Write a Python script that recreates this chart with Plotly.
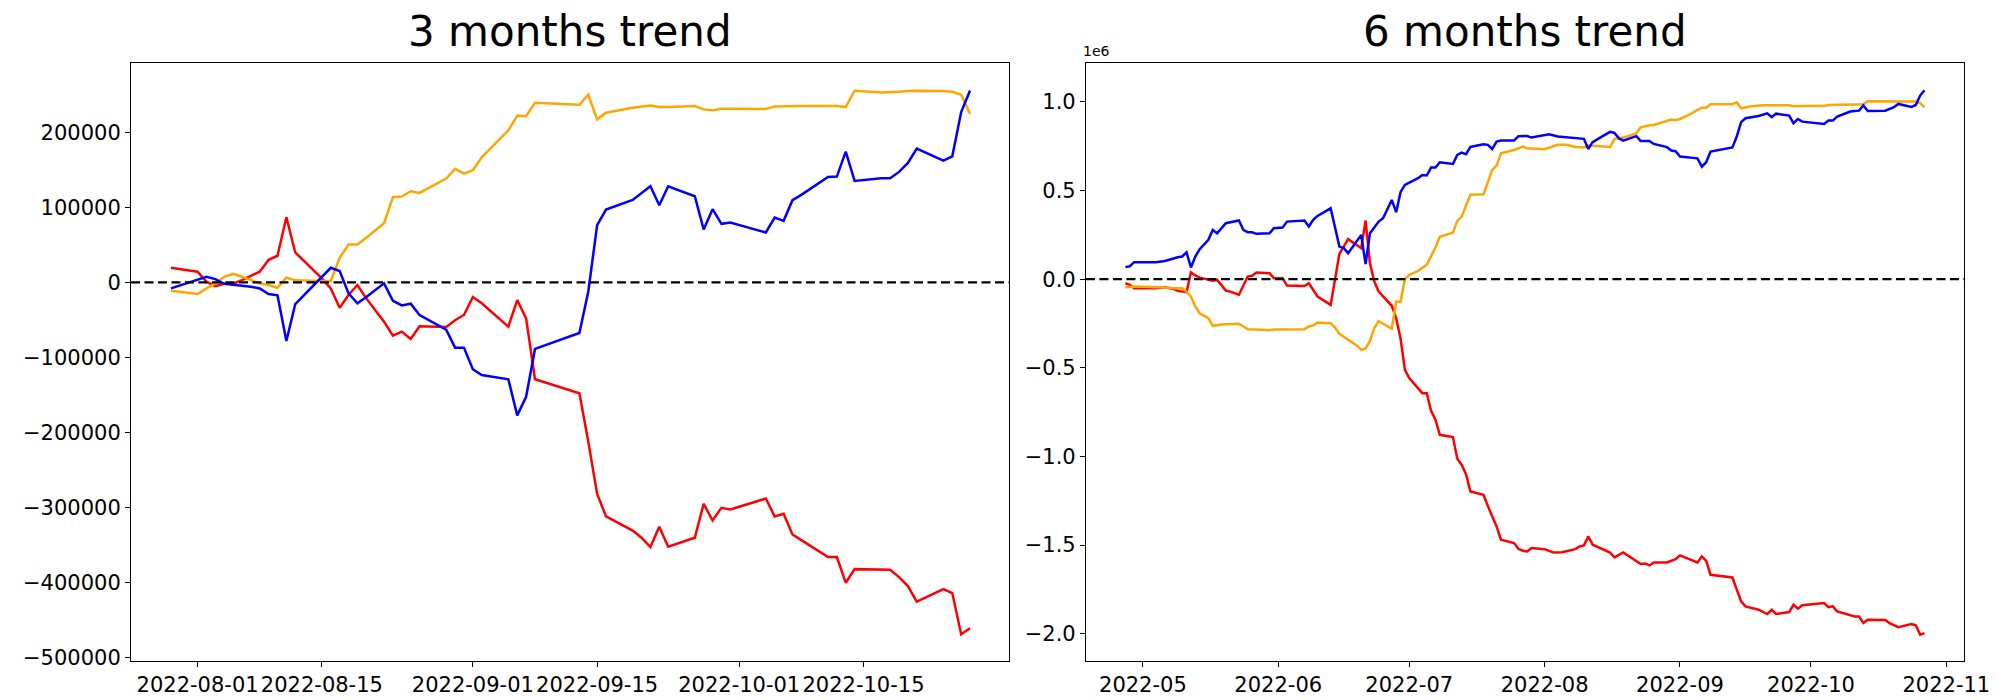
import plotly.graph_objects as go

# ---------------- 3 months trend (left) ----------------
dates_3m = ["2022-07-29", "2022-08-01", "2022-08-02", "2022-08-03", "2022-08-04", "2022-08-05",
            "2022-08-06", "2022-08-07", "2022-08-08", "2022-08-09", "2022-08-10", "2022-08-11",
            "2022-08-12", "2022-08-15", "2022-08-16", "2022-08-17", "2022-08-18", "2022-08-19",
            "2022-08-20", "2022-08-22", "2022-08-23", "2022-08-24", "2022-08-25", "2022-08-26",
            "2022-08-29", "2022-08-30", "2022-08-31", "2022-09-01", "2022-09-02", "2022-09-05",
            "2022-09-06", "2022-09-07", "2022-09-08", "2022-09-13", "2022-09-14", "2022-09-15",
            "2022-09-16", "2022-09-19", "2022-09-20", "2022-09-21", "2022-09-22", "2022-09-23",
            "2022-09-26", "2022-09-27", "2022-09-28", "2022-09-29", "2022-09-30", "2022-10-04",
            "2022-10-05", "2022-10-06", "2022-10-07", "2022-10-08", "2022-10-11", "2022-10-12",
            "2022-10-13", "2022-10-14", "2022-10-17", "2022-10-18", "2022-10-19", "2022-10-20",
            "2022-10-21", "2022-10-24", "2022-10-25", "2022-10-26", "2022-10-27"]

red_3m = [19500, 14200, 900, -4900, -1800, -1800, 3100, 8400, 14200, 30100, 35500, 86900,
          39900, 5300, -8000, -33700, -16800, -3500, -21300, -52300, -70900, -65600, -75400,
          -58500, -59400, -50500, -43400, -19500, -27900, -59000, -23500, -47900, -129000,
          -147600, -211900, -281900, -311600, -330700, -340200, -352600, -325600, -352200,
          -340200, -295000, -317200, -300400, -302600, -288000, -311900, -308300, -335800,
          -343300, -366000, -366000, -400100, -382000, -383300, -382800, -392600, -404500,
          -425400, -408500, -413900, -468800, -460800]

blue_3m = [-8000, 3500, 7500, 4400, -1800, -3100, -4400, -5800, -8000, -15500, -17300, -78000,
           -28800, 8000, 19500, 15100, -14600, -27900, -19500, -1300, -24400, -30600, -28400,
           -43400, -63000, -86900, -86900, -115700, -123300, -129000, -177200, -152400, -88600,
           -67400, -12400, 76200, 97100, 109900, 118400, 128100, 102800, 128100, 114800, 70500,
           97500, 78000, 79800, 66500, 86400, 82000, 109500, 116600, 140500, 141000, 174200,
           135200, 138800, 138800, 147200, 159100, 178200, 162200, 168000, 227000, 255800]

orange_3m = [-11100, -15500, -8000, -1300, 7500, 11500, 7500, 3100, -1300, -3500, -7100, 6200,
             2700, 1800, 1800, 32800, 50500, 50500, 59400, 78900, 113500, 114400, 121500, 119200,
             138300, 151200, 145000, 149400, 166700, 202600, 222100, 221700, 239400, 236700,
             250000, 217200, 226100, 232700, 234100, 235800, 233600, 233600, 235000, 230500,
             229200, 231400, 231400, 231000, 234500, 235000, 235000, 235000, 235000, 235000,
             233600, 255300, 253100, 253100, 254000, 254900, 255300, 254900, 254000, 250000,
             224800]

ticks_3m = ["2022-08-01", "2022-08-15", "2022-09-01", "2022-09-15", "2022-10-01", "2022-10-15"]
yticks_3m = [-500000, -400000, -300000, -200000, -100000, 0, 100000, 200000]

# ---------------- 6 months trend (right), values in millions ----------------
blue_6m_dates = ["2022-04-27", "2022-04-28", "2022-04-29", "2022-05-01", "2022-05-04", "2022-05-06",
                 "2022-05-07", "2022-05-09", "2022-05-10", "2022-05-11", "2022-05-12", "2022-05-13",
                 "2022-05-14", "2022-05-16", "2022-05-17", "2022-05-18", "2022-05-20", "2022-05-23",
                 "2022-05-24", "2022-05-25", "2022-05-26", "2022-05-27", "2022-05-30", "2022-05-31",
                 "2022-06-02", "2022-06-03", "2022-06-07", "2022-06-08", "2022-06-09", "2022-06-10",
                 "2022-06-13", "2022-06-15", "2022-06-16", "2022-06-17", "2022-06-20", "2022-06-21",
                 "2022-06-22", "2022-06-24", "2022-06-25", "2022-06-27", "2022-06-28", "2022-06-29",
                 "2022-06-30", "2022-07-03", "2022-07-04", "2022-07-05", "2022-07-06", "2022-07-07",
                 "2022-07-08", "2022-07-11", "2022-07-12", "2022-07-13", "2022-07-14", "2022-07-15",
                 "2022-07-18", "2022-07-19", "2022-07-20", "2022-07-21", "2022-07-22", "2022-07-25",
                 "2022-07-26", "2022-07-28", "2022-07-29", "2022-08-02", "2022-08-04", "2022-08-08",
                 "2022-08-10", "2022-08-11", "2022-08-12", "2022-08-14", "2022-08-16", "2022-08-17",
                 "2022-08-18", "2022-08-19", "2022-08-22", "2022-08-23", "2022-08-25", "2022-08-26",
                 "2022-08-29", "2022-08-30", "2022-08-31", "2022-09-01", "2022-09-05", "2022-09-06",
                 "2022-09-07", "2022-09-08", "2022-09-13", "2022-09-14", "2022-09-15", "2022-09-16",
                 "2022-09-19", "2022-09-21", "2022-09-22", "2022-09-23", "2022-09-26", "2022-09-27",
                 "2022-09-28", "2022-09-29", "2022-10-04", "2022-10-05", "2022-10-06", "2022-10-07",
                 "2022-10-10", "2022-10-11", "2022-10-12", "2022-10-13", "2022-10-14", "2022-10-18",
                 "2022-10-20", "2022-10-21", "2022-10-24", "2022-10-25", "2022-10-26", "2022-10-27"]
blue_6m = [0.068, 0.073, 0.096, 0.096, 0.096, 0.103, 0.111, 0.124, 0.128, 0.152, 0.066, 0.128,
           0.169, 0.222, 0.278, 0.259, 0.316, 0.331, 0.278, 0.265, 0.265, 0.256, 0.259, 0.288,
           0.291, 0.325, 0.331, 0.297, 0.335, 0.357, 0.400, 0.184, 0.175, 0.147, 0.250, 0.085,
           0.259, 0.325, 0.344, 0.447, 0.378, 0.491, 0.532, 0.570, 0.588, 0.585, 0.630, 0.630,
           0.660, 0.650, 0.701, 0.714, 0.705, 0.746, 0.761, 0.758, 0.735, 0.776, 0.782, 0.782,
           0.807, 0.808, 0.799, 0.818, 0.805, 0.799, 0.792, 0.735, 0.773, 0.803, 0.831, 0.825,
           0.795, 0.782, 0.807, 0.780, 0.780, 0.763, 0.745, 0.726, 0.722, 0.692, 0.682, 0.635,
           0.660, 0.720, 0.743, 0.805, 0.886, 0.908, 0.921, 0.936, 0.914, 0.934, 0.923, 0.880,
           0.904, 0.889, 0.876, 0.895, 0.895, 0.917, 0.946, 0.949, 0.951, 0.980, 0.949, 0.951,
           0.970, 0.989, 0.972, 0.983, 1.036, 1.066]

orange_6m_dates = ["2022-04-27", "2022-04-29", "2022-05-01", "2022-05-04", "2022-05-06", "2022-05-08",
                   "2022-05-10", "2022-05-11", "2022-05-12", "2022-05-13", "2022-05-14", "2022-05-16",
                   "2022-05-17", "2022-05-19", "2022-05-21", "2022-05-23", "2022-05-24", "2022-05-25",
                   "2022-05-27", "2022-05-30", "2022-05-31", "2022-06-02", "2022-06-03", "2022-06-07",
                   "2022-06-08", "2022-06-09", "2022-06-10", "2022-06-13", "2022-06-14", "2022-06-15",
                   "2022-06-17", "2022-06-19", "2022-06-20", "2022-06-21", "2022-06-22", "2022-06-23",
                   "2022-06-24", "2022-06-25", "2022-06-27", "2022-06-28", "2022-06-29", "2022-06-30",
                   "2022-07-01", "2022-07-03", "2022-07-05", "2022-07-07", "2022-07-08", "2022-07-11",
                   "2022-07-12", "2022-07-13", "2022-07-15", "2022-07-18", "2022-07-19", "2022-07-20",
                   "2022-07-21", "2022-07-22", "2022-07-25", "2022-07-27", "2022-07-28", "2022-08-01",
                   "2022-08-04", "2022-08-06", "2022-08-08", "2022-08-10", "2022-08-11", "2022-08-16",
                   "2022-08-17", "2022-08-19", "2022-08-22", "2022-08-23", "2022-08-24", "2022-08-25",
                   "2022-08-26", "2022-08-28", "2022-08-30", "2022-08-31", "2022-09-01", "2022-09-03",
                   "2022-09-06", "2022-09-07", "2022-09-08", "2022-09-13", "2022-09-14", "2022-09-15",
                   "2022-09-17", "2022-09-20", "2022-09-26", "2022-09-27", "2022-09-30", "2022-10-04",
                   "2022-10-05", "2022-10-12", "2022-10-13", "2022-10-14", "2022-10-19", "2022-10-25",
                   "2022-10-26", "2022-10-27"]
orange_6m = [-0.045, -0.041, -0.043, -0.043, -0.047, -0.051, -0.051, -0.070, -0.098, -0.154,
             -0.192, -0.220, -0.263, -0.256, -0.254, -0.252, -0.267, -0.282, -0.284, -0.288,
             -0.284, -0.284, -0.280, -0.282, -0.267, -0.261, -0.244, -0.248, -0.273, -0.308,
             -0.342, -0.374, -0.399, -0.391, -0.348, -0.276, -0.237, -0.250, -0.280, -0.126,
             -0.128, 0.002, 0.024, 0.047, 0.081, 0.179, 0.239, 0.263, 0.329, 0.353, 0.476,
             0.479, 0.551, 0.617, 0.641, 0.711, 0.729, 0.748, 0.739, 0.733, 0.758, 0.758, 0.746,
             0.743, 0.754, 0.746, 0.792, 0.799, 0.823, 0.857, 0.863, 0.869, 0.870, 0.884, 0.901,
             0.897, 0.904, 0.927, 0.968, 0.968, 0.987, 0.987, 0.998, 0.964, 0.974, 0.981, 0.981,
             0.976, 0.978, 0.978, 0.983, 0.983, 0.987, 1.004, 1.002, 1.002, 0.993, 0.970]

red_6m_dates = ["2022-04-27", "2022-04-28", "2022-04-29", "2022-05-01", "2022-05-04", "2022-05-06",
                "2022-05-08", "2022-05-09", "2022-05-11", "2022-05-12", "2022-05-13", "2022-05-14",
                "2022-05-16", "2022-05-17", "2022-05-18", "2022-05-20", "2022-05-21", "2022-05-23",
                "2022-05-25", "2022-05-26", "2022-05-27", "2022-05-30", "2022-05-31", "2022-06-02",
                "2022-06-03", "2022-06-07", "2022-06-08", "2022-06-10", "2022-06-13", "2022-06-15",
                "2022-06-17", "2022-06-20", "2022-06-21", "2022-06-22", "2022-06-23", "2022-06-24",
                "2022-06-27", "2022-06-28", "2022-06-29", "2022-06-30", "2022-07-01", "2022-07-04",
                "2022-07-05", "2022-07-06", "2022-07-07", "2022-07-08", "2022-07-11", "2022-07-12",
                "2022-07-13", "2022-07-14", "2022-07-15", "2022-07-18", "2022-07-19", "2022-07-20",
                "2022-07-21", "2022-07-22", "2022-07-25", "2022-07-26", "2022-07-27", "2022-07-28",
                "2022-07-29", "2022-08-01", "2022-08-03", "2022-08-05", "2022-08-08", "2022-08-09",
                "2022-08-10", "2022-08-11", "2022-08-12", "2022-08-16", "2022-08-17", "2022-08-19",
                "2022-08-23", "2022-08-24", "2022-08-25", "2022-08-26", "2022-08-29", "2022-08-31",
                "2022-09-01", "2022-09-05", "2022-09-06", "2022-09-07", "2022-09-08", "2022-09-13",
                "2022-09-15", "2022-09-16", "2022-09-19", "2022-09-21", "2022-09-22", "2022-09-23",
                "2022-09-26", "2022-09-27", "2022-09-28", "2022-09-29", "2022-10-04", "2022-10-05",
                "2022-10-06", "2022-10-07", "2022-10-11", "2022-10-12", "2022-10-13", "2022-10-14",
                "2022-10-18", "2022-10-19", "2022-10-21", "2022-10-24", "2022-10-25", "2022-10-26",
                "2022-10-27"]
red_6m = [-0.023, -0.032, -0.051, -0.051, -0.051, -0.045, -0.055, -0.066, -0.073, 0.039, 0.021,
          0.009, -0.004, -0.008, -0.004, -0.064, -0.070, -0.088, 0.015, 0.019, 0.038, 0.034,
          0.006, 0.006, -0.036, -0.039, -0.023, -0.098, -0.145, 0.143, 0.226, 0.175, 0.331,
          0.090, -0.013, -0.070, -0.150, -0.220, -0.333, -0.511, -0.558, -0.643, -0.643,
          -0.743, -0.793, -0.878, -0.891, -1.013, -1.047, -1.100, -1.198, -1.216, -1.280,
          -1.340, -1.395, -1.470, -1.489, -1.521, -1.532, -1.536, -1.517, -1.523, -1.542,
          -1.540, -1.523, -1.508, -1.502, -1.451, -1.498, -1.542, -1.570, -1.542, -1.607,
          -1.604, -1.615, -1.598, -1.598, -1.579, -1.558, -1.598, -1.564, -1.589, -1.668,
          -1.683, -1.818, -1.846, -1.865, -1.889, -1.865, -1.889, -1.878, -1.837, -1.859,
          -1.840, -1.827, -1.850, -1.846, -1.874, -1.903, -1.903, -1.940, -1.921, -1.923,
          -1.940, -1.963, -1.946, -1.953, -2.006, -1.997]

ticks_6m = ["2022-05-01", "2022-06-01", "2022-07-01", "2022-08-01", "2022-09-01", "2022-10-01", "2022-11-01"]
yticks_6m = [-2.0, -1.5, -1.0, -0.5, 0.0, 0.5, 1.0]

titles = ["3 months trend", "6 months trend"]

# ---------------- figure ----------------
W, H = 2000, 700
ml, mr, mt, mb = 122.5, 44, 55, 47
pw = W - ml - mr
dom1 = [0, (1001 - ml) / pw]
dom2 = [(1077.7 - ml) / pw, 1]

FONT = "DejaVu Sans"
LW = 2.5

fig = go.Figure()
for name, xs, ys, col in [("red", dates_3m, red_3m, "red"),
                          ("orange", dates_3m, orange_3m, "orange"),
                          ("blue", dates_3m, blue_3m, "blue")]:
    fig.add_trace(go.Scatter(x=xs, y=ys, mode="lines", line=dict(color=col, width=LW),
                             xaxis="x", yaxis="y", showlegend=False, name=name))
for name, xs, ys, col in [("red", red_6m_dates, red_6m, "red"),
                          ("orange", orange_6m_dates, orange_6m, "orange"),
                          ("blue", blue_6m_dates, blue_6m, "blue")]:
    fig.add_trace(go.Scatter(x=xs, y=ys, mode="lines", line=dict(color=col, width=LW),
                             xaxis="x2", yaxis="y2", showlegend=False, name=name))

axis_common = dict(showline=True, linecolor="black", linewidth=1.1, mirror=True,
                   ticks="outside", ticklen=5, tickwidth=1.1, tickcolor="black",
                   showgrid=False, zeroline=False,
                   tickfont=dict(family=FONT, size=21, color="black"))

def fmt_int(v):
    return f"{v:d}".replace("-", "\u2212")

def fmt_1(v):
    return f"{v:.1f}".replace("-", "\u2212")

fig.update_layout(
    width=W, height=H,
    margin=dict(l=ml, r=mr, t=mt, b=mb, autoexpand=False),
    paper_bgcolor="white", plot_bgcolor="white",
    font=dict(family=FONT, color="black"),
    xaxis=dict(domain=dom1, anchor="y", type="date",
               range=["2022-07-24 12:00", "2022-10-31 10:00"],
               tickvals=ticks_3m, ticktext=ticks_3m, **axis_common),
    yaxis=dict(domain=[0, 1], anchor="x", range=[-504400, 292300],
               tickvals=yticks_3m, ticktext=[fmt_int(v) for v in yticks_3m], **axis_common),
    xaxis2=dict(domain=dom2, anchor="y2", type="date",
                range=["2022-04-17 23:00", "2022-11-05 01:00"],
                tickvals=ticks_6m, ticktext=[t[:7] for t in ticks_6m], **axis_common),
    yaxis2=dict(domain=[0, 1], anchor="x2", range=[-2.1542, 1.2198],
                tickvals=yticks_6m, ticktext=[fmt_1(v) for v in yticks_6m], **axis_common),
)

dash = dict(color="black", width=2.2, dash="9px,4.5px")
fig.add_shape(type="line", xref="x domain", yref="y", x0=0, x1=1, y0=0, y1=0, line=dash, layer="above")
fig.add_shape(type="line", xref="x2 domain", yref="y2", x0=0, x1=1, y0=0, y1=0, line=dash, layer="above")

for dom, t in zip([dom1, dom2], titles):
    fig.add_annotation(text=t, xref="paper", yref="paper", x=(dom[0] + dom[1]) / 2, y=1,
                       xanchor="center", yanchor="bottom", yshift=5, showarrow=False,
                       font=dict(family=FONT, size=42, color="black"))

fig.add_annotation(text="1e6", xref="paper", yref="paper", x=dom2[0], y=1,
                   xanchor="left", yanchor="bottom", xshift=-5, yshift=2, showarrow=False,
                   font=dict(family=FONT, size=14, color="black"))

fig.write_html("out.html")
